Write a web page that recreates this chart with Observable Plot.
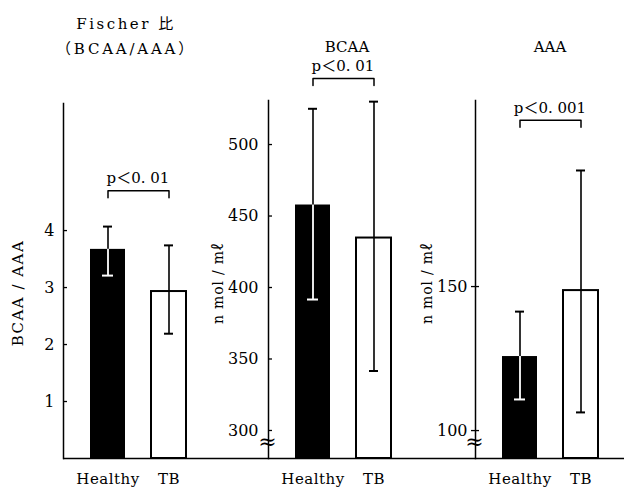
<!DOCTYPE html>
<html><head><meta charset="utf-8">
<script src="https://cdn.jsdelivr.net/npm/d3@7"></script>
<script src="https://cdn.jsdelivr.net/npm/@observablehq/plot@0.6"></script>
<style>
body{margin:0;background:#fff;}
#chart{position:relative;width:624px;height:488px;overflow:hidden;background:#fff;}
#chart svg{position:absolute;top:0;overflow:visible;}
#chart svg text{text-spacing-trim:space-all;}
</style></head><body><div id="chart"></div>
<script>
// ---- data ----
const groups = ["Healthy", "TB"];
const fischerMean = [3.67, 2.93];
const fischerHi = [4.07, 3.74];
const fischerLo = [3.21, 2.19];
const bcaaMean = [457.7, 434.6];
const bcaaHi = [525, 530];
const bcaaLo = [391.6, 341.6];
const aaaMean = [125.7, 148.6];
const aaaHi = [141.3, 190.3];
const aaaLo = [110.8, 106.3];
const fischerTicks = [1, 2, 3, 4];
const bcaaTicks = [300, 350, 400, 450, 500];
const aaaTicks = [100, 150];
const titles = [["Fischer 比", "（BCAA/AAA）"], ["BCAA"], ["AAA"]];
const yLabels = ["BCAA / AAA", "n mol / mℓ", "n mol / mℓ"];
const pLabels = ["p＜0. 01", "p＜0. 01", "p＜0. 001"];
const bracketLevels = [4.70, 546.2, 207.7];

// ---- layout ----
const H = 488, MB = 30;
const panels = [
  {left: 0, width: 212, marginLeft: 63, marginTop: 103, domain: [0, 6.23], mean: fischerMean, hi: fischerHi, lo: fischerLo, ticks: fischerTicks, gap: 0, broken: false, cross: false, tickPad: 9, titleDx: -12, titleDy: [-85, -60], labDx: -45, labDy: 12},
  {left: 212, width: 205, marginLeft: 56, marginTop: 100, domain: [280.4, 530.8], mean: bcaaMean, hi: bcaaHi, lo: bcaaLo, ticks: bcaaTicks, gap: 56, broken: true, cross: false, tickPad: 10, titleDx: 4, titleDy: [-59], labDx: -50, labDy: 4},
  {left: 417, width: 207, marginLeft: 58, marginTop: 100, domain: [90.3, 214.6], mean: aaaMean, hi: aaaHi, lo: aaaLo, ticks: aaaTicks, gap: 58, broken: true, cross: true, tickPad: 8, titleDx: 0, titleDy: [-59], labDx: -48, labDy: 4}
];

const FONT = "'DejaVu Serif', 'Noto Sans CJK JP', serif";
const chart = document.getElementById("chart");

panels.forEach((cfg, i) => {
  const data = groups.map((g, j) => ({group: g, mean: cfg.mean[j], hi: cfg.hi[j], lo: cfg.lo[j]}));
  const [y0, y1] = cfg.domain;
  const fw = cfg.width - cfg.marginLeft;
  const d = (y1 - y0) * 7 / (H - cfg.marginTop - MB);
  const lvl = bracketLevels[i];
  const bracket = [
    {group: groups[0], y: lvl - d}, {group: groups[0], y: lvl},
    {group: groups[1], y: lvl}, {group: groups[1], y: lvl - d}
  ];
  const healthy = data.filter(r => r.group === "Healthy");
  const tb = data.filter(r => r.group === "TB");
  const capInset = 13;
  const marks = [
    Plot.barY(healthy, {x: "group", y1: y0, y2: "mean", fill: "black"}),
    Plot.barY(tb, {x: "group", y1: y0, y2: "mean", fill: "white", stroke: "black", strokeWidth: 2}),
    Plot.ruleX(data, {x: "group", y1: "lo", y2: "hi", stroke: "black", strokeWidth: 1.6}),
    Plot.ruleX(healthy, {x: "group", y1: "lo", y2: "mean", stroke: "white", strokeWidth: 1.8}),
    Plot.tickY(data, {x: "group", y: "hi", inset: capInset, stroke: "black", strokeWidth: 2}),
    Plot.tickY(healthy, {x: "group", y: "lo", inset: capInset - 1, stroke: "white", strokeWidth: 2}),
    Plot.tickY(tb, {x: "group", y: "lo", inset: capInset, stroke: "black", strokeWidth: 2}),
    Plot.frame({anchor: "left", strokeWidth: 1.5}),
    Plot.ruleY([y0], {insetLeft: -cfg.gap, strokeWidth: 1.5}),
    Plot.tickY(cfg.ticks, {y: v => v, insetLeft: cfg.cross ? -4 : 0, insetRight: fw - 4, strokeWidth: 1.3}),
    Plot.axisY({ticks: cfg.ticks, tickFormat: v => String(v), tickSize: 0, tickPadding: cfg.tickPad, fontSize: 16, fontFamily: FONT, label: null}),
    Plot.axisX({tickSize: 0, tickPadding: 15, fontSize: 15, fontFamily: FONT, label: null}),
    Plot.line(bracket, {x: "group", y: "y", stroke: "black", strokeWidth: 1.5}),
    Plot.text([lvl], {y: v => v, text: () => pLabels[i], frameAnchor: "middle", dy: -12, fontSize: 15, fontFamily: FONT}),
    ...titles[i].map((t, k) => Plot.text([t], {text: v => v, frameAnchor: "top", dx: cfg.titleDx, dy: cfg.titleDy[k], fontSize: 15, fontFamily: FONT})),
    Plot.text([yLabels[i]], {text: v => v, frameAnchor: "left", rotate: -90, textAnchor: "middle", dx: cfg.labDx, dy: cfg.labDy, fontSize: i === 0 ? 15 : 14, fontFamily: FONT})
  ];
  if (cfg.broken) {
    marks.push(Plot.text(["≈"], {text: v => v, frameAnchor: "bottom-left", textAnchor: "middle", dx: -1, dy: -10, fontSize: 22, fontFamily: FONT}));
  }
  const svg = Plot.plot({
    width: cfg.width,
    height: H,
    marginLeft: cfg.marginLeft,
    marginRight: 0,
    marginTop: cfg.marginTop,
    marginBottom: MB,
    x: {domain: groups, paddingInner: 0.43, paddingOuter: 0.42, axis: null},
    y: {domain: cfg.domain, axis: null},
    style: {fontFamily: FONT, fontSize: "15px", color: "black", background: "transparent", overflow: "visible"},
    marks
  });
  svg.style.left = cfg.left + "px";
  const spacing = {"Fischer 比": "2.5px", "（BCAA/AAA）": "2.8px", "Healthy": "0.5px", "TB": "0.5px", "BCAA / AAA": "1.5px", "n mol / mℓ": "0.8px"};
  d3.select(svg).selectAll("text").each(function () {
    const t = this.textContent;
    if (spacing[t]) this.style.letterSpacing = spacing[t];
  });
  chart.appendChild(svg);
});
</script>
</body></html>
